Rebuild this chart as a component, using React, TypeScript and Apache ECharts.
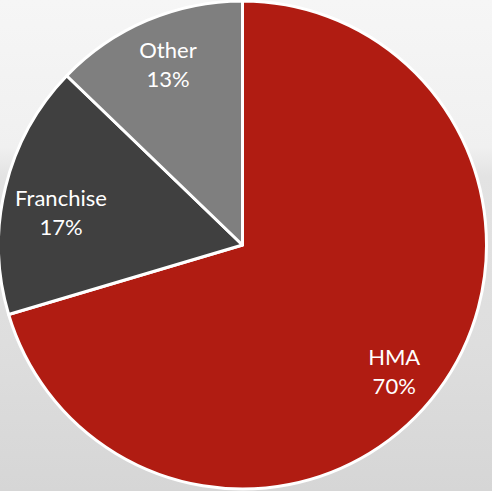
import React, { useEffect, useRef } from "react";
import * as echarts from "echarts";

const categories = ["HMA", "Franchise", "Other"];
const values = [70.4, 16.8, 12.8];
const colors = ["#B01C12", "#404040", "#7F7F7F"];
// label nudges (style only), per slice
const labelNudge: [number, number][] = [
  [-3, 11],
  [6, 13],
  [1, -3],
];

export default function App() {
  const ref = useRef<HTMLDivElement>(null);
  useEffect(() => {
    if (!ref.current) return;
    const chart = echarts.init(ref.current, undefined, { renderer: "svg" });
    const data = categories.map((name, i) => ({
      name,
      value: values[i],
      itemStyle: { color: colors[i] },
    }));
    chart.setOption({
      animation: false,
      backgroundColor: {
        type: "linear",
        x: 0,
        y: 0,
        x2: 0,
        y2: 1,
        colorStops: [
          { offset: 0, color: "#f6f6f6" },
          { offset: 0.3, color: "#f0f0f0" },
          { offset: 0.36, color: "#e3e3e3" },
          { offset: 0.7, color: "#dedede" },
          { offset: 1, color: "#d6d6d6" },
        ],
      },
      series: [
        {
          type: "pie",
          center: [242.5, 245],
          radius: [0, 244],
          startAngle: 90,
          clockwise: true,
          silent: true,
          itemStyle: { borderColor: "#ffffff", borderWidth: 3 },
          label: { show: false },
          labelLine: { show: false },
          data,
        },
        {
          type: "pie",
          center: [242.5, 245],
          radius: [140, 240],
          startAngle: 90,
          clockwise: true,
          silent: true,
          itemStyle: { color: "transparent", borderWidth: 0 },
          label: {
            show: true,
            position: "inside",
            formatter: (p: any) => `${p.name}\n${Math.round(p.value)}%`,
            color: "#ffffff",
            fontFamily: "Lato, 'Open Sans', sans-serif",
            fontSize: 22,
            lineHeight: 29,
            align: "center",
          },
          labelLayout: (p: any) => ({
            dx: labelNudge[p.dataIndex][0],
            dy: labelNudge[p.dataIndex][1],
          }),
          labelLine: { show: false },
          data: categories.map((name, i) => ({
            name,
            value: values[i],
            itemStyle: { color: "transparent" },
          })),
        },
      ],
    });
    return () => chart.dispose();
  }, []);
  return (
    <div
      ref={ref}
      style={{ position: "fixed", left: 0, top: 0, width: 492, height: 491 }}
    />
  );
}
